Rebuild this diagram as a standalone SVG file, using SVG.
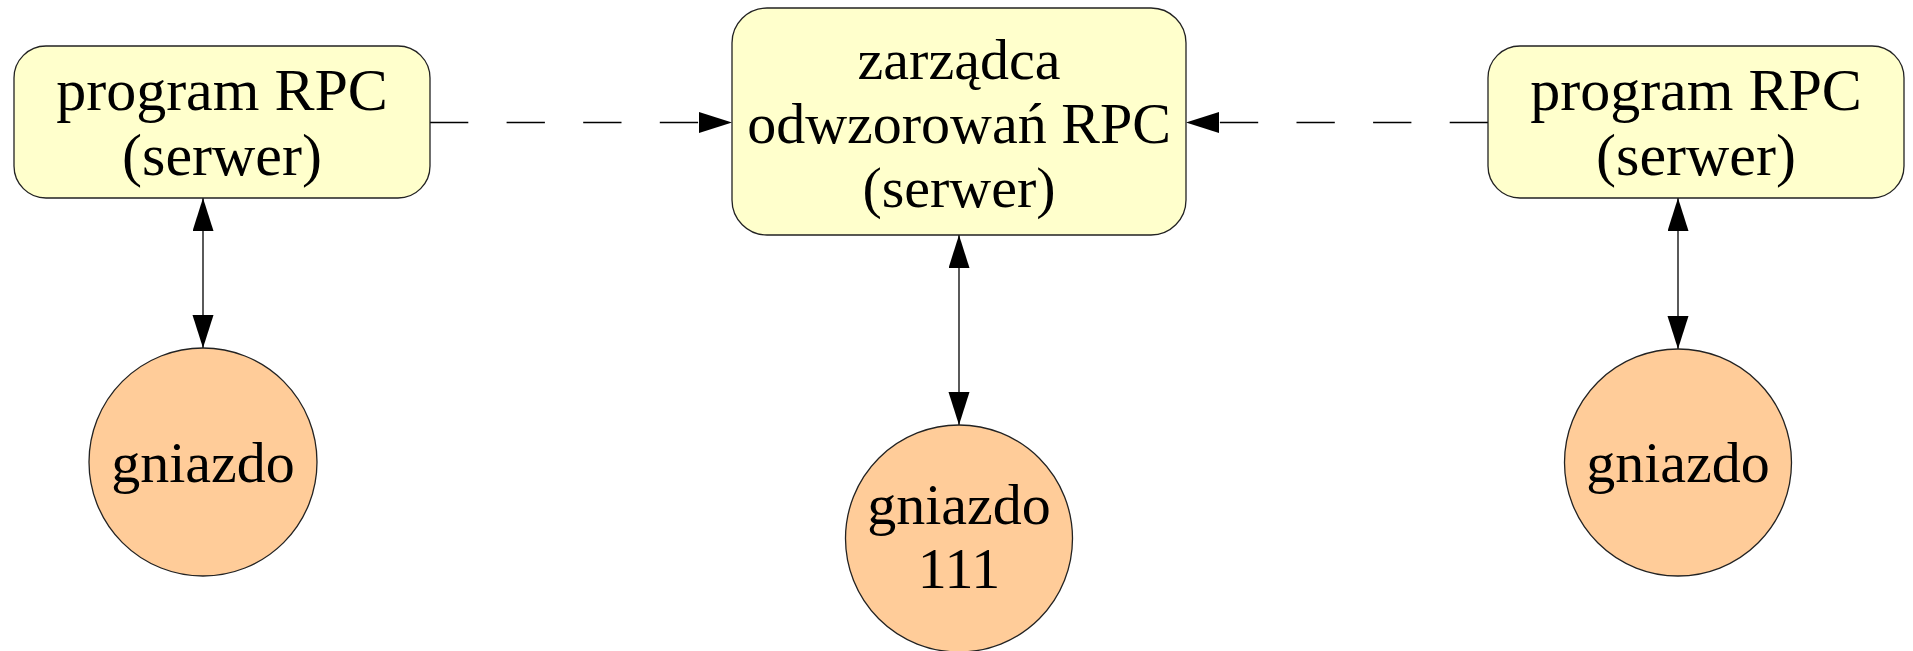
<svg xmlns="http://www.w3.org/2000/svg" width="1913" height="651" viewBox="0 0 1913 651">
  <style>
    .box { fill: #ffffcc; stroke: #222; stroke-width: 1.3; }
    .sock { fill: #ffcc99; stroke: #222; stroke-width: 1.3; }
    .lbl { font-family: "Liberation Serif", "Times New Roman", serif; font-size: 58px; fill: #000; text-anchor: middle; }
    .big { font-size: 60px; }
    .link { stroke: #000; stroke-width: 1.3; fill: none; }
    .dash { stroke-dasharray: 38.3 38.3; }
  </style>
  <defs>
    <marker id="head" markerUnits="userSpaceOnUse" markerWidth="34" markerHeight="22" refX="33" refY="10.5" orient="auto-start-reverse">
      <path d="M0,0 L33,10.5 L0,21 Z" fill="#000"/>
    </marker>
  </defs>
  <rect width="1913" height="651" fill="#fff"/>

  <g id="connectors">
    <line class="link dash" x1="430" y1="122.5" x2="732" y2="122.5" marker-end="url(#head)"/>
    <line class="link dash" x1="1488" y1="122.5" x2="1186" y2="122.5" marker-end="url(#head)"/>
    <line class="link" x1="203" y1="198" x2="203" y2="348" marker-start="url(#head)" marker-end="url(#head)"/>
    <line class="link" x1="959" y1="235" x2="959" y2="425" marker-start="url(#head)" marker-end="url(#head)"/>
    <line class="link" x1="1678" y1="198" x2="1678" y2="349" marker-start="url(#head)" marker-end="url(#head)"/>
  </g>

  <g id="server-left">
    <rect class="box" x="14" y="46" width="416" height="152" rx="32" ry="32"/>
    <text class="lbl big" x="222" y="110">program RPC</text>
    <text class="lbl big" x="222" y="175">(serwer)</text>
  </g>

  <g id="portmapper">
    <rect class="box" x="732" y="8" width="454" height="227" rx="35" ry="35"/>
    <text class="lbl" x="959" y="79">zarządca</text>
    <text class="lbl" x="959" y="143">odwzorowań RPC</text>
    <text class="lbl" x="959" y="207">(serwer)</text>
  </g>

  <g id="server-right">
    <rect class="box" x="1488" y="46" width="416" height="152" rx="32" ry="32"/>
    <text class="lbl big" x="1696" y="110">program RPC</text>
    <text class="lbl big" x="1696" y="175">(serwer)</text>
  </g>

  <g id="socket-left">
    <circle class="sock" cx="203" cy="462" r="114"/>
    <text class="lbl" x="203" y="482">gniazdo</text>
  </g>

  <g id="socket-111">
    <circle class="sock" cx="959" cy="538.5" r="113.5"/>
    <text class="lbl" x="959" y="524">gniazdo</text>
    <text class="lbl" x="959" y="588">111</text>
  </g>

  <g id="socket-right">
    <circle class="sock" cx="1678" cy="462.5" r="113.5"/>
    <text class="lbl" x="1678" y="482">gniazdo</text>
  </g>
</svg>
